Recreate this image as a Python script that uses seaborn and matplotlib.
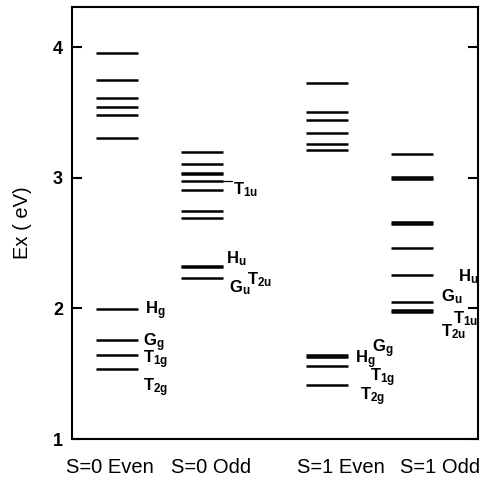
import numpy as np
import pandas as pd
import matplotlib
matplotlib.use('Agg')
import matplotlib.pyplot as plt
import seaborn as sns

# excitation energies (eV)
# close pairs are the thick (near-degenerate) bars
columns = ['S=0 Even', 'S=0 Odd', 'S=1 Even', 'S=1 Odd']
s0_even = [3.960, 3.752, 3.611, 3.544, 3.479, 3.306, 1.998, 1.762, 1.641, 1.536]
s0_odd = [3.201, 3.108, 3.041, 3.029, 2.974, 2.909, 2.747, 2.690, 2.329, 2.317, 2.230]
s1_even = [3.727, 3.509, 3.444, 3.348, 3.258, 3.218, 1.647, 1.629, 1.556, 1.415]
s1_odd = [3.180, 3.009, 2.991, 2.664, 2.646, 2.463, 2.256, 2.049, 1.988, 1.970]

# state labels: (column, symbol, subscript, energy of label baseline)
labels = [
    (0, 'H', 'g', 1.954), (0, 'G', 'g', 1.712), (0, 'T', '1g', 1.580), (0, 'T', '2g', 1.364),
    (1, 'H', 'u', 2.347), (1, 'T', '2u', 2.186), (1, 'G', 'u', 2.122), (1, 'T', '1u', 2.876),
    (2, 'H', 'g', 1.582), (2, 'G', 'g', 1.662), (2, 'T', '1g', 1.441), (2, 'T', '2g', 1.300),
    (3, 'H', 'u', 2.212), (3, 'G', 'u', 2.057), (3, 'T', '1u', 1.890), (3, 'T', '2u', 1.787),
]
# horizontal offset of each label from the bar ends, in points
label_dx = [5, 3.5, 3.5, 3.5, 2, 17, 4, 7, 5, 17.5, 16, 9, 18, 6, 14.5, 6]
t1u_leader = 2.974

df = pd.DataFrame({
    'state': np.repeat(columns, [len(s0_even), len(s0_odd), len(s1_even), len(s1_odd)]),
    'E': s0_even + s0_odd + s1_even + s1_odd,
})

col_x = {'S=0 Even': 0.45, 'S=0 Odd': 1.30, 'S=1 Even': 2.55, 'S=1 Odd': 3.40}
tick_x = [0.38, 1.39, 2.685, 3.68]
half = 0.21

sns.set_theme(style='ticks')
plt.rcParams['font.family'] = ['Liberation Sans', 'DejaVu Sans']
plt.rcParams['mathtext.fontset'] = 'custom'
plt.rcParams['mathtext.bf'] = 'Liberation Sans:bold'
plt.rcParams['mathtext.rm'] = 'Liberation Sans'

fig = plt.figure(figsize=(4.8, 4.82), dpi=100)
ax = fig.add_axes([72 / 480, 43 / 482, 406 / 480, 432 / 482])

xc = df['state'].map(col_x)
ax.hlines(df['E'], xc - half, xc + half, color='black', lw=1.8)

# leader line to the T1u label
x_odd = col_x['S=0 Odd'] + half
ax.plot([x_odd, x_odd + 0.09], [t1u_leader, t1u_leader], color='black', lw=0.9)

for (c, sym, sub, e), dx in zip(labels, label_dx):
    x0 = col_x[columns[c]] + half
    ax.annotate(r'$\mathbf{%s_{%s}}$' % (sym, sub), xy=(x0, e), xytext=(dx, 0),
                textcoords='offset points', ha='left', va='baseline',
                fontsize=12, color='black')

ax.set_xlim(0, 4.06)
ax.set_ylim(1, 4.31)
ax.set_yticks([1, 2, 3, 4])
ax.set_xticks(tick_x, columns)
ax.tick_params(axis='y', direction='in', length=7, width=1.5, right=True,
               labelsize=13, pad=6.5, colors='black')
ax.tick_params(axis='x', length=0, pad=14, labelsize=14.5, colors='black')
for t in ax.get_yticklabels():
    t.set_fontweight('bold')
for s in ax.spines.values():
    s.set_linewidth(1.5)
    s.set_color('black')
ax.set_ylabel('Ex ( eV)', fontsize=14.5, labelpad=15, color='black')

fig.savefig('out.png', dpi=100)
